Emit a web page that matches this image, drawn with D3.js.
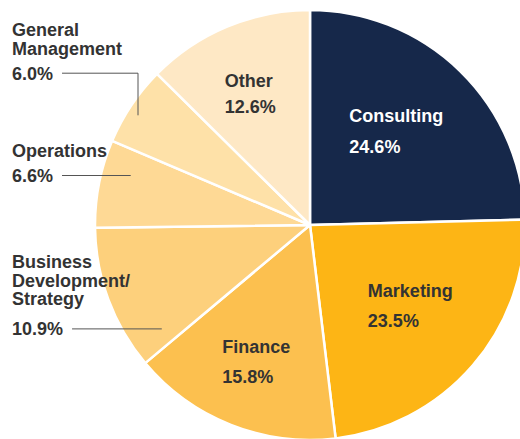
<!DOCTYPE html>
<html>
<head>
<meta charset="utf-8">
<script src="https://cdn.jsdelivr.net/npm/d3@7"></script>
<style>
  body { margin: 0; background: #fff; }
  svg text { font-family: "Liberation Sans", Arial, sans-serif; font-weight: bold; font-size: 18px; }
</style>
</head>
<body>
<script>
// chart data, clockwise from 12 o'clock
var categories = ['Consulting', 'Marketing', 'Finance', 'Business Development/Strategy', 'Operations', 'General Management', 'Other'];
var shares = [24.6, 23.5, 15.8, 10.9, 6.6, 6.0, 12.6];
var shareLabels = ['24.6%', '23.5%', '15.8%', '10.9%', '6.6%', '6.0%', '12.6%'];
var colors = ['#16284a', '#fdb515', '#fcc04f', '#fdd07c', '#fed995', '#fee1a8', '#fee8c5'];

var width = 520, height = 439;
var cx = 310, cy = 225, radius = 215;

var svg = d3.select('body').append('svg')
    .attr('width', width)
    .attr('height', height);

var pie = d3.pie().sort(null).value(function(d) { return d; });
var arcs = pie(shares);

var arc = d3.arc().innerRadius(0).outerRadius(radius);

var g = svg.append('g').attr('transform', 'translate(' + cx + ',' + cy + ')');

g.selectAll('path')
    .data(arcs)
  .enter().append('path')
    .attr('d', arc)
    .attr('fill', function(d, i) { return colors[i]; })
    .attr('stroke', '#fff')
    .attr('stroke-width', 2.5)
    .attr('stroke-linejoin', 'round');

// labels inside the big slices, placed around the centroid
var labelArc = d3.arc().innerRadius(138).outerRadius(138);
var inside = {
  'Consulting': { nudge: [-10, 5], gap: 31, fill: '#fff' },
  'Marketing':  { nudge: [-4, -10], gap: 30, fill: '#333' },
  'Finance':    { nudge: [-3, 8], gap: 30, fill: '#333' },
  'Other':      { nudge: [-8, -4], gap: 26, fill: '#333' }
};

arcs.forEach(function(d, i) {
  var cfg = inside[categories[i]];
  if (!cfg) return;
  var c = labelArc.centroid(d);
  var mx = cx + c[0] + cfg.nudge[0],
      my = cy + c[1] + cfg.nudge[1];
  var base = my - (cfg.gap - 13) / 2;
  var t1 = svg.append('text').attr('fill', cfg.fill).attr('y', base).text(categories[i]);
  var t2 = svg.append('text').attr('fill', cfg.fill).attr('y', base + cfg.gap).text(shareLabels[i]);
  var w = t1.node().getComputedTextLength();
  t1.attr('x', mx - w / 2);
  t2.attr('x', mx - w / 2);
});

// labels outside the small slices, with leader lines
var outside = {
  'General Management': { lines: ['General', 'Management'], top: 36, gap: 25, elbowX: 138, tipR: 204 },
  'Operations': { lines: ['Operations'], top: 157, gap: 25, tipR: 186 },
  'Business Development/Strategy': { lines: ['Business', 'Development/', 'Strategy'], top: 268, gap: 30, tipR: 181 }
};

arcs.forEach(function(d, i) {
  var cfg = outside[categories[i]];
  if (!cfg) return;
  var y = cfg.top;
  cfg.lines.forEach(function(s, k) {
    svg.append('text').attr('fill', '#333').attr('x', 12).attr('y', y + k * 18.7).text(s);
  });
  var py = y + (cfg.lines.length - 1) * 18.7 + cfg.gap;
  var pt = svg.append('text').attr('fill', '#333').attr('x', 12).attr('y', py).text(shareLabels[i]);
  var x0 = 12 + pt.node().getComputedTextLength() + 9;
  var ly = py - 6.5;
  var pts;
  if (cfg.elbowX) {
    var dx = cfg.elbowX - cx;
    var tipY = cy - Math.sqrt(cfg.tipR * cfg.tipR - dx * dx);
    pts = [[x0, ly], [cfg.elbowX, ly], [cfg.elbowX, tipY]];
  } else {
    var dy = ly - cy;
    pts = [[x0, ly], [cx - Math.sqrt(cfg.tipR * cfg.tipR - dy * dy), ly]];
  }
  svg.append('path')
      .attr('d', d3.line()(pts))
      .attr('fill', 'none')
      .attr('stroke', '#555')
      .attr('stroke-width', 1);
});
</script>
</body>
</html>
